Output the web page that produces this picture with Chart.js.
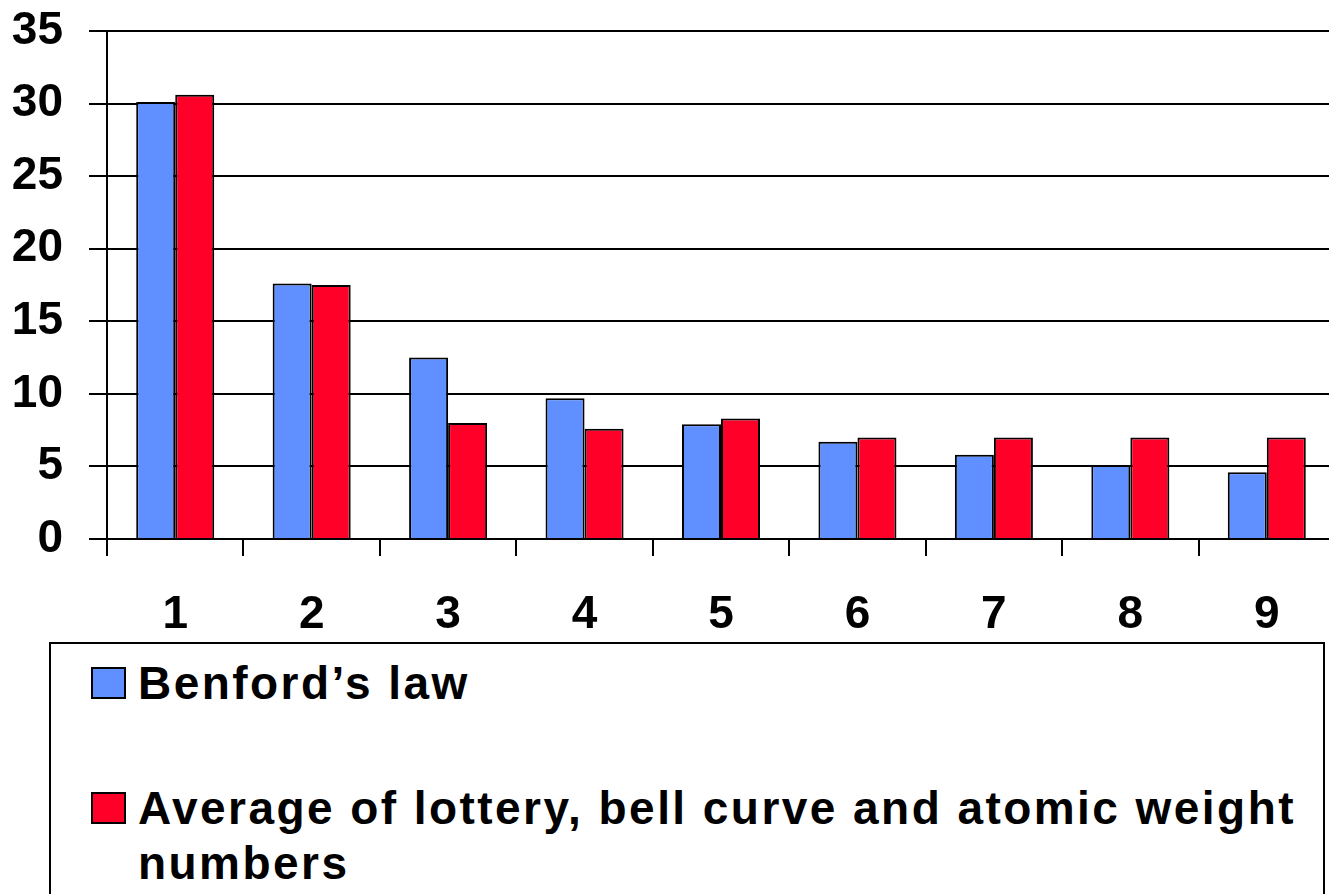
<!DOCTYPE html>
<html>
<head>
<meta charset="utf-8">
<script src="https://cdn.jsdelivr.net/npm/chart.js@4/dist/chart.umd.min.js"></script>
<style>
  html, body { margin: 0; padding: 0; background: #fff; overflow: hidden; width: 1329px; height: 894px; }
  #wrap { position: relative; width: 1329px; height: 894px; overflow: hidden; }
  #c { position: absolute; left: 0; top: 0; }
  #legend { position: absolute; left: 49px; top: 642px; width: 1276px; height: 300px; box-sizing: border-box; border: 2px solid #000; background: #fff;
    font-family: "Liberation Sans", Arial, sans-serif; font-weight: bold; font-size: 46px; line-height: 55px; letter-spacing: 2.45px; color: #000; }
  .item { position: absolute; left: 0; }
  .sw { position: absolute; left: 40px; width: 35px; height: 32px; box-sizing: border-box; border: 2px solid #000; }
  .tx { position: absolute; left: 87px; width: 1182px; }
</style>
</head>
<body>
<div id="wrap">
  <canvas id="c" width="1335" height="645"></canvas>
  <div id="legend"></div>
</div>
<script>
const categories = ['1', '2', '3', '4', '5', '6', '7', '8', '9'];
const benford = [30.1, 17.6, 12.5, 9.7, 7.9, 6.7, 5.8, 5.1, 4.6];
const average = [30.6, 17.5, 8.0, 7.6, 8.3, 7.0, 7.0, 7.0, 7.0];
const seriesLabels = ['Benford\u2019s law', 'Average of lottery, bell curve and atomic weight numbers'];
const seriesColors = ['#6090FF', '#FF0028'];
const yMin = 0, yMax = 35, yStep = 5;

const FONT = '"Liberation Sans", Arial, sans-serif';
Chart.defaults.color = '#000';
Chart.defaults.font.family = FONT;

const chart = new Chart(document.getElementById('c'), {
  type: 'bar',
  data: {
    labels: categories,
    datasets: [
      { label: seriesLabels[0], data: benford, backgroundColor: seriesColors[0], borderColor: '#000', borderWidth: 2 },
      { label: seriesLabels[1], data: average, backgroundColor: seriesColors[1], borderColor: '#000', borderWidth: 2 }
    ]
  },
  options: {
    responsive: false,
    animation: false,
    layout: { padding: { left: 0, right: 0, top: 31, bottom: 0 } },
    datasets: { bar: { categoryPercentage: 0.572, barPercentage: 1.0 } },
    plugins: { legend: { display: false }, tooltip: { enabled: false } },
    scales: {
      x: {
        grid: { drawOnChartArea: false, drawTicks: true, tickLength: 17, color: '#000', lineWidth: 2, offset: true },
        border: { display: true, color: '#000', width: 2 },
        ticks: { font: { size: 46, weight: 'bold' }, color: '#000', padding: 32, maxRotation: 0 },
        afterFit: (s) => { s.height = 106; s.paddingLeft = 0; s.paddingRight = 0; }
      },
      y: {
        min: yMin, max: yMax,
        grid: { color: '#000', lineWidth: 2, tickLength: 18, drawTicks: true },
        border: { display: true, color: '#000', width: 2 },
        ticks: { stepSize: yStep, font: { size: 46, weight: 'bold' }, color: '#000', padding: 26 },
        afterFit: (s) => { s.width = 107; s.paddingTop = 0; s.paddingBottom = 0; }
      }
    }
  }
});

// HTML legend built from the chart's datasets
const legend = document.getElementById('legend');
const tops = [12, 137];
chart.data.datasets.forEach((ds, i) => {
  const item = document.createElement('div');
  item.className = 'item';
  item.style.top = tops[i] + 'px';
  const sw = document.createElement('div');
  sw.className = 'sw';
  sw.style.background = ds.backgroundColor;
  sw.style.top = '11px';
  const tx = document.createElement('div');
  tx.className = 'tx';
  tx.textContent = ds.label;
  item.appendChild(sw);
  item.appendChild(tx);
  legend.appendChild(item);
});
</script>
</body>
</html>
